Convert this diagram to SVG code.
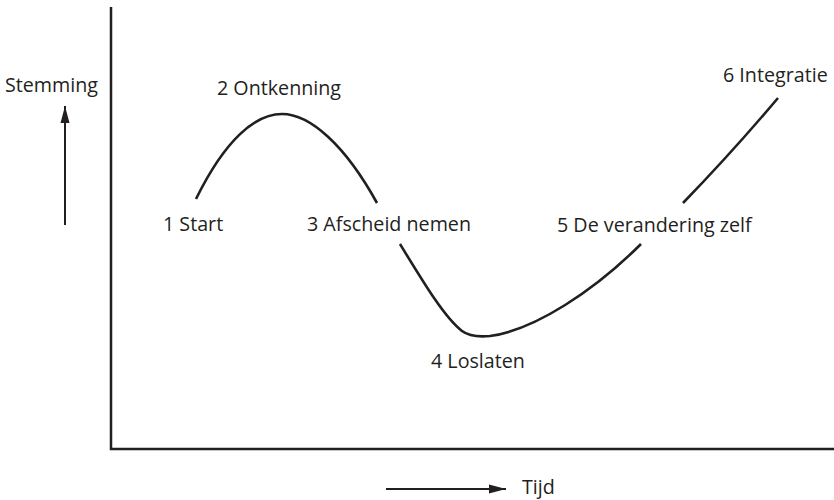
<svg xmlns="http://www.w3.org/2000/svg" width="834" height="500" viewBox="0 0 834 500">
<defs>
<marker id="ahv" viewBox="0 0 17 10" refX="17" refY="5" markerWidth="17" markerHeight="10" markerUnits="userSpaceOnUse" orient="auto">
<path d="M0,0.5 L17,5 L0,9.5 Z" fill="#231f20"/>
</marker>
</defs>
<style>
.t{font-family:"Open Sans","Noto Sans",sans-serif;font-size:19.7px;fill:#231f20}
.ax{stroke:#231f20;stroke-width:2.5;fill:none}
.cv{stroke:#231f20;stroke-width:2.6;fill:none;stroke-linecap:butt}
.ar{stroke:#231f20;stroke-width:2;fill:none}
</style>
<rect width="834" height="500" fill="#fff"/>
<g id="axes">
<path class="ax" d="M111,7 L111,449 L834,449"/>
</g>
<g id="connectors">
<line class="ar" x1="65" y1="225" x2="65" y2="106" marker-end="url(#ahv)"/>
<line class="ar" x1="386" y1="489" x2="506" y2="489" marker-end="url(#ahv)"/>
</g>
<g id="curve">
<path class="cv" d="M196,199 C225,140 255,114 282,114 C310,114 345,145 377,203"/>
<path class="cv" d="M400,244 C425,285 445,318 462,331 C470,337 480,337 490,336 C535,330 595,290 641,244"/>
<path class="cv" d="M683,203 C715,170 745,137 778,98"/>
</g>
<g id="labels">
<text class="t" x="5" y="92">Stemming</text>
<text class="t" x="522" y="494">Tijd</text>
</g>
<g id="n1"><text class="t" x="163" y="231">1 Start</text></g>
<g id="n2"><text class="t" x="217" y="95">2 Ontkenning</text></g>
<g id="n3"><text class="t" x="307" y="231">3 Afscheid nemen</text></g>
<g id="n4"><text class="t" x="431" y="368">4 Loslaten</text></g>
<g id="n5"><text class="t" x="557" y="232">5 De verandering zelf</text></g>
<g id="n6"><text class="t" x="723" y="82">6 Integratie</text></g>
</svg>
